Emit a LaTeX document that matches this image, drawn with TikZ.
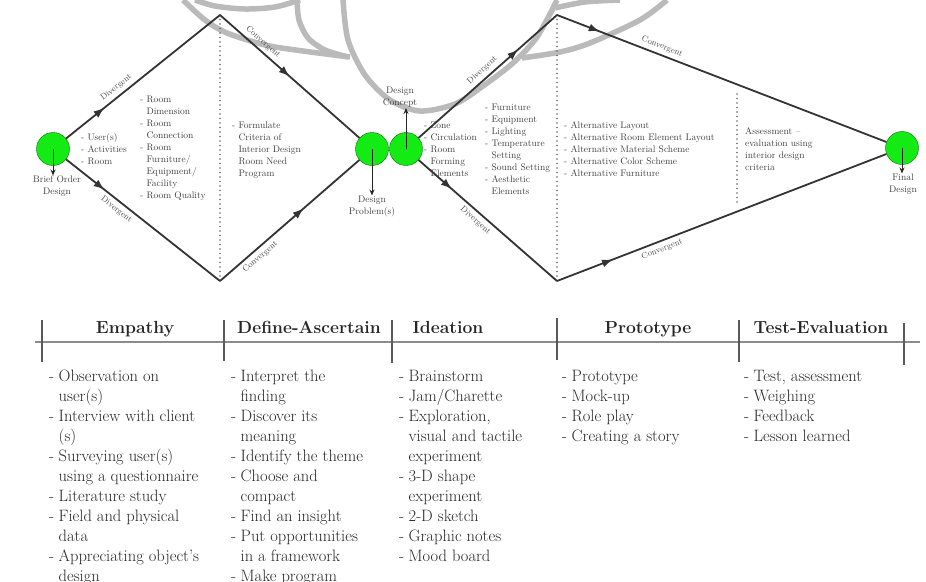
\documentclass[tikz,border=0pt]{standalone}
\usetikzlibrary{arrows.meta,decorations.markings,positioning}
\definecolor{phasegreen}{RGB}{20,235,20}
\tikzset{
    phase/.style = {
        circle,
        draw = green!45!black,
        fill = phasegreen,
        minimum size = 33pt,
        inner sep = 0pt,
        },
    flow/.style = {
        draw = black!80,
        line width = 1.8pt,
        postaction = {decorate},
        decoration = {markings, mark=at position #1 with {\arrow{Latex[length=11pt,width=8pt]}}},
        },
    guide/.style = {
        draw = black!60,
        line width = 1.7pt,
        line cap = round,
        dash pattern = on 0pt off 4.5pt,
        },
    watermark/.style = {
        draw = black!27,
        line width = 5.5pt,
        },
    note/.style = {
        font = \fontsize{9.5}{12}\selectfont,
        align = left,
        inner sep = 0pt,
        anchor = north west,
        text = black!75,
        },
    caption/.style = {
        font = \fontsize{9.5}{12}\selectfont,
        align = center,
        inner sep = 0pt,
        anchor = north,
        text = black!75,
        },
    slope label/.style = {
        font = \fontsize{8.5}{10}\selectfont,
        sloped,
        inner sep = 3.5pt,
        text = black!70,
        },
    pointer/.style = {
        draw = black!85,
        line width = 1pt,
        -{Stealth[length=6pt,width=5pt]},
        },
    stage/.style = {
        font = \fontsize{17.5}{21}\selectfont\bfseries,
        anchor = base,
        inner sep = 0pt,
        text = black!85,
        },
    tick/.style = {
        draw = black!65,
        line width = 1.5pt,
        },
    steps/.style = {
        font = \fontsize{16.5}{20}\selectfont,
        anchor = north west,
        inner sep = 0pt,
        text = black!85,
        },
}

\begin{document}
\begin{tikzpicture}[x=1pt,y=-1pt]
    \useasboundingbox (0,0) rectangle (926,581);

    % watermark arcs behind the diagram
    \draw[watermark] plot[smooth] coordinates {(183,0) (205,20) (227,33) (265,45) (303,51) (350,57)};
    \draw[watermark] plot[smooth] coordinates {(195,0) (215,6) (245,9) (275,7) (300,0)};
    \draw[watermark] plot[smooth] coordinates {(297,0) (299,20) (308,38) (325,50) (348,57)};
    \draw[watermark] plot[smooth] coordinates {(343,0) (348,40) (365,75) (390,100) (420,111) (455,104) (483,86) (513,63) (537,37) (557,0)};
    \draw[watermark] plot[smooth] coordinates {(522,58) (560,52) (590,43) (640,20) (667,0)};
    \draw[watermark] plot[smooth] coordinates {(555,8) (585,2) (620,0)};

    % vertices of the two diamonds
    \coordinate (d1top) at (220,15);
    \coordinate (d1bot) at (220,281);
    \coordinate (d2top) at (557,15);
    \coordinate (d2bot) at (557,281);
    \coordinate (gtop) at (737,94);
    \coordinate (gbot) at (737,205);

    % phases
    \node[phase] (brief) at (53,149) {};
    \node[phase] (pdl) at (372,149) {};
    \node[phase] (pdr) at (406,149) {};
    \node[phase] (final) at (902,148) {};

    % dotted guides
    \draw[guide] (d1top) -- (d1bot);
    \draw[guide] (d2top) -- (d2bot);
    \draw[guide] (gtop) -- (gbot);

    % first diamond
    \draw[flow=0.25] (brief) -- node[slope label, above, pos=0.36] {Divergent} (d1top);
    \draw[flow=0.25] (brief) -- node[slope label, below, pos=0.36] {Divergent} (d1bot);
    \draw[flow=0.5] (d1top) -- node[slope label, above, pos=0.27] {Convergent} (pdl);
    \draw[flow=0.6] (d1bot) -- node[slope label, below, pos=0.25] {Convergent} (pdl);

    % second diamond
    \draw[flow=0.72] (pdr) -- node[slope label, above, pos=0.5] {Divergent} (d2top);
    \draw[flow=0.24] (pdr) -- node[slope label, below, pos=0.45] {Divergent} (d2bot);
    \draw[flow=0.13] (d2top) -- node[slope label, above, pos=0.31] {Convergent} (final);
    \draw[flow=0.17] (d2bot) -- node[slope label, below, pos=0.31] {Convergent} (final);

    % captions of the phases
    \node[caption] (brieflbl) at (57,175.5) {Brief Order\\Design};
    \node[caption] (problbl) at (372,195.5) {Design\\Problem(s)};
    \node[caption, anchor=south] (conclbl) at (400,108) {Design\\Concept};
    \node[caption] (finallbl) at (903,173.5) {Final\\Design};
    \draw[pointer] (brief.center) -- (brief.center |- brieflbl.north);
    \draw[pointer] (pdl.center) -- (pdl.center |- problbl.north);
    \draw[pointer] (pdr.center) -- (pdr.center |- conclbl.south);
    \draw[pointer] (final.center) -- (final.center |- finallbl.north);

    % notes inside the diamonds
    \node[note] (users) at (81,133.5) {- User(s)\\- Activities\\- Room};
    \node[note] (rooms) at (140,95.5) {- Room\\\phantom{- }Dimension\\- Room\\\phantom{- }Connection\\- Room\\\phantom{- }Furniture/\\\phantom{- }Equipment/\\\phantom{- }Facility\\- Room Quality};
    \node[note] (criteria) at (232,121.5) {- Formulate\\\phantom{- }Criteria of\\\phantom{- }Interior Design\\\phantom{- }Room Need\\\phantom{- }Program};
    \node[note] (zones) at (424,121.5) {- Zone\\- Circulation\\- Room\\\phantom{- }Forming\\\phantom{- }Elements};
    \node[note] (settings) at (485,103.5) {- Furniture\\- Equipment\\- Lighting\\- Temperature\\\phantom{- }Setting\\- Sound Setting\\- Aesthetic\\\phantom{- }Elements};
    \node[note] (alternatives) at (564,121.5) {- Alternative Layout\\- Alternative Room Element Layout\\- Alternative Material Scheme\\- Alternative Color Scheme\\- Alternative Furniture};
    \node[note] (assess) at (745,127.5) {Assessment --\\evaluation using\\interior design\\criteria};

    % stage table
    \coordinate (rule l) at (35,342);
    \coordinate (rule r) at (920,342);
    \draw[draw=black!45, line width=1.5pt] (rule l) -- (rule r);
    \foreach \x/\t/\b in {42/320/362, 224/320/361, 392/320/363, 557/318/360, 739/320/362, 904/323/365}
        \draw[tick] (\x,\t) -- (\x,\b);

    \node[stage] (empathy) at (135,333) {Empathy};
    \node[stage] (define) at (309,333) {Define-Ascertain};
    \node[stage] (ideation) at (448,333) {Ideation};
    \node[stage] (prototype) at (648,333) {Prototype};
    \node[stage] (test) at (821,333) {Test-Evaluation};

    \node[steps] (empathy list) at (49,367.5) {\begin{tabular}{@{}l@{\hspace{4.5pt}}l@{}}
        - & Observation on\\ & user(s)\\
        - & Interview with client\\ & (s)\\
        - & Surveying user(s)\\ & using a questionnaire\\
        - & Literature study\\
        - & Field and physical\\ & data\\
        - & Appreciating object's\\ & design
        \end{tabular}};
    \node[steps] (define list) at (231,367.5) {\begin{tabular}{@{}l@{\hspace{4.5pt}}l@{}}
        - & Interpret the\\ & finding\\
        - & Discover its\\ & meaning\\
        - & Identify the theme\\
        - & Choose and\\ & compact\\
        - & Find an insight\\
        - & Put opportunities\\ & in a framework\\
        - & Make program
        \end{tabular}};
    \node[steps] (ideation list) at (399,367.5) {\begin{tabular}{@{}l@{\hspace{4.5pt}}l@{}}
        - & Brainstorm\\
        - & Jam/Charette\\
        - & Exploration,\\ & visual and tactile\\ & experiment\\
        - & 3-D shape\\ & experiment\\
        - & 2-D sketch\\
        - & Graphic notes\\
        - & Mood board
        \end{tabular}};
    \node[steps] (prototype list) at (562,367.5) {\begin{tabular}{@{}l@{\hspace{4.5pt}}l@{}}
        - & Prototype\\
        - & Mock-up\\
        - & Role play\\
        - & Creating a story
        \end{tabular}};
    \node[steps] (test list) at (744,367.5) {\begin{tabular}{@{}l@{\hspace{4.5pt}}l@{}}
        - & Test, assessment\\
        - & Weighing\\
        - & Feedback\\
        - & Lesson learned
        \end{tabular}};
\end{tikzpicture}
\end{document}
